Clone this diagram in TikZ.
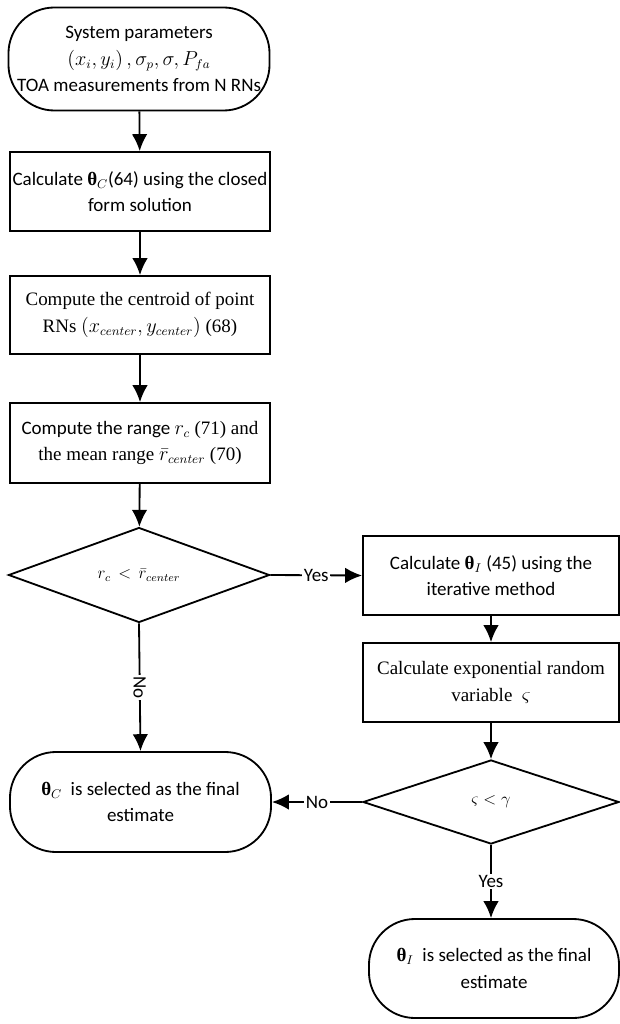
\documentclass[tikz,border=0pt]{standalone}
\usepackage{amsmath}
\usepackage{fontspec}
\setmainfont{Carlito}
\newfontfamily\tmsfont{Liberation Serif}
\newcommand{\btheta}[1]{{\tmsfont\bfseries θ}$_{#1}$}
\usetikzlibrary{shapes.geometric,arrows.meta}
\tikzset{
  flow base/.style={draw, line width=1.3pt, align=center, inner sep=2pt,
    font=\fontsize{13.5}{19}\selectfont},
  flow box/.style={flow base, rectangle, minimum width=6.5cm, minimum height=1.975cm},
  flow term/.style={flow base, rectangle, rounded corners=1.15cm},
  flow test/.style={flow base, diamond, inner sep=0pt, font=\fontsize{12}{14}\selectfont},
  flow line/.style={line width=1.3pt, ->},
  flow label/.style={midway, fill=white, inner sep=1pt, font=\fontsize{13.5}{16}\selectfont},
}

\begin{document}
\begin{tikzpicture}[x=0.025cm, y=-0.025cm, >={Latex[length=12pt,width=11pt]}]
\useasboundingbox (0,0) rectangle (619,1024);
\node[flow term, minimum width=6.525cm, minimum height=2.575cm] (start) at (139,59)
  {System parameters\\ $\left(x_i,y_i\right),\sigma_p,\sigma,P_{fa}$\\ TOA measurements from N RNs};
\node[flow box] (calcC) at (140,191.5)
  {Calculate \btheta{C}(64) using the closed\\ form solution};
\node[flow box, minimum height=1.95cm] (centroid) at (140,315)
  {\tmsfont Compute the centroid of point\\ \tmsfont RNs $\left(x_{center},y_{center}\right)$ (68)};
\node[flow box, minimum height=2cm] (range) at (140,443)
  {Compute the range {\tmsfont $r_c$\ (71) and}\\ \tmsfont the mean range\ $\bar{r}_{center}$\ (70)};
\node[flow test, minimum width=6.525cm, minimum height=1.925cm] (testR) at (139,575)
  {$r_c \,<\, \bar{r}_{center}$};
\node[flow box, minimum width=6.4cm] (calcI) at (491,575.5)
  {Calculate \btheta{I} (45) using the\\ iterative method};
\node[flow box, minimum width=6.4cm] (expvar) at (491,682.5)
  {\tmsfont Calculate exponential random\\ \tmsfont variable\ \ $\varsigma$};
\node[flow test, minimum width=6.4cm, minimum height=2.1cm] (testS) at (491,802)
  {$\varsigma<\gamma$};
\node[flow term, minimum width=6.525cm, minimum height=2.5cm] (endC) at (140.5,802)
  {\btheta{C}\ \ is selected as the final\\ estimate};
\node[flow term, minimum width=6.25cm, minimum height=2.475cm] (endI) at (494,968.5)
  {\btheta{I}\ \ is selected as the final\\ estimate};

\draw[flow line] (start) -- (calcC);
\draw[flow line] (calcC) -- (centroid);
\draw[flow line] (centroid) -- (range);
\draw[flow line] (range) -- (testR);
\draw[flow line] (testR.east) -- node[flow label] {Yes} (calcI.west);
\draw[flow line] (testR.south) -- node[flow label, rotate=-90] {No} (endC.north);
\draw[flow line] (calcI.south) -- (calcI.south |- expvar.north);
\draw[flow line] (expvar.south) -- (testS.north);
\draw[flow line] (testS.west) -- node[flow label] {No} (endC.east);
\draw[flow line] (testS.south) -- node[flow label] {Yes} (testS.south |- endI.north);
\end{tikzpicture}
\end{document}
